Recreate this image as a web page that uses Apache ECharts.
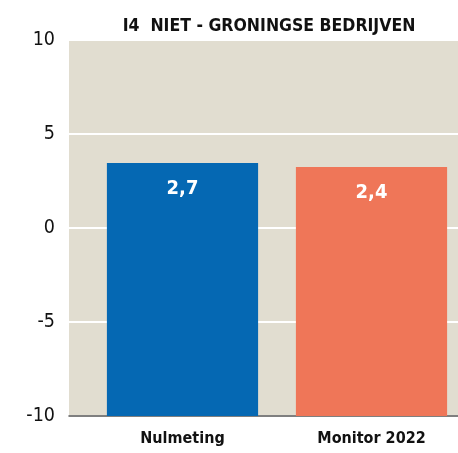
<!DOCTYPE html>
<html>
<head>
<meta charset="utf-8">
<script src="https://cdn.jsdelivr.net/npm/echarts@6/dist/echarts.min.js"></script>
<style>html,body{margin:0;padding:0;background:#fff;}#c{width:458px;height:453px;}</style>
</head>
<body>
<div id="c"></div>
<script>
var title = 'I4  NIET - GRONINGSE BEDRIJVEN';
var categories = ['Nulmeting', 'Monitor 2022'];
var barValues = [3.46, 3.24];
var barLabels = ['2,7', '2,4'];
var barColors = ['#0568b3', '#ef7658'];
var yMin = -10, yMax = 10, yInterval = 5;

var FONT = '"DejaVu Sans Condensed", "Liberation Sans Narrow", sans-serif';
var chart = echarts.init(document.getElementById('c'), null, {renderer: 'canvas'});
chart.setOption({
  animation: false,
  backgroundColor: '#ffffff',
  title: {
    text: title, left: 264, textAlign: 'center', top: 12,
    textStyle: {fontFamily: FONT, fontSize: 17.5, fontWeight: 'bold', color: '#111'}
  },
  grid: [
    {left: 69, right: 0, top: 40, bottom: 37, show: true, backgroundColor: '#e1ddd0', borderWidth: 0,
     outerBoundsMode: 'none'},
    {left: 88, width: 378, top: 40, bottom: 37, outerBoundsMode: 'none'}
  ],
  xAxis: [
    {type: 'value', gridIndex: 0, min: 0, max: 1, axisLabel: {show: false}, axisTick: {show: false},
     splitLine: {show: false}, axisLine: {show: true, onZero: false, lineStyle: {color: '#555', width: 1.5}}},
    {type: 'category', gridIndex: 1, data: categories, axisLine: {show: false, onZero: false}, axisTick: {show: false},
     axisLabel: {margin: 15, fontFamily: FONT, fontSize: 16, fontWeight: 'bold', color: '#111'}}
  ],
  yAxis: [
    {type: 'value', gridIndex: 0, min: yMin, max: yMax, interval: yInterval,
     axisLine: {show: false}, axisTick: {show: false},
     axisLabel: {margin: 14, fontFamily: FONT, fontSize: 19.5, color: '#111'},
     splitLine: {show: true, lineStyle: {color: '#ffffff', width: 2}}},
    {type: 'value', gridIndex: 1, min: yMin, max: yMax, show: false}
  ],
  series: [{
    type: 'custom',
    xAxisIndex: 1, yAxisIndex: 1,
    encode: {x: 0, y: 1},
    data: categories.map(function (c, i) { return [c, barValues[i]]; }),
    renderItem: function (params, api) {
      var top = api.coord([api.value(0), api.value(1)]);
      var base = api.coord([api.value(0), yMin]);
      var w = api.size([1, 0])[0] * 0.8;
      var i = params.dataIndex;
      return {
        type: 'group',
        children: [
          {type: 'rect', shape: {x: top[0] - w / 2, y: top[1], width: w, height: base[1] - top[1]},
           style: {fill: barColors[i]}},
          {type: 'text', x: top[0], y: top[1] + 26,
           style: {text: barLabels[i], align: 'center', verticalAlign: 'middle', fill: '#ffffff',
                   font: 'bold 20px ' + FONT}}
        ]
      };
    }
  }]
});
</script>
</body>
</html>
